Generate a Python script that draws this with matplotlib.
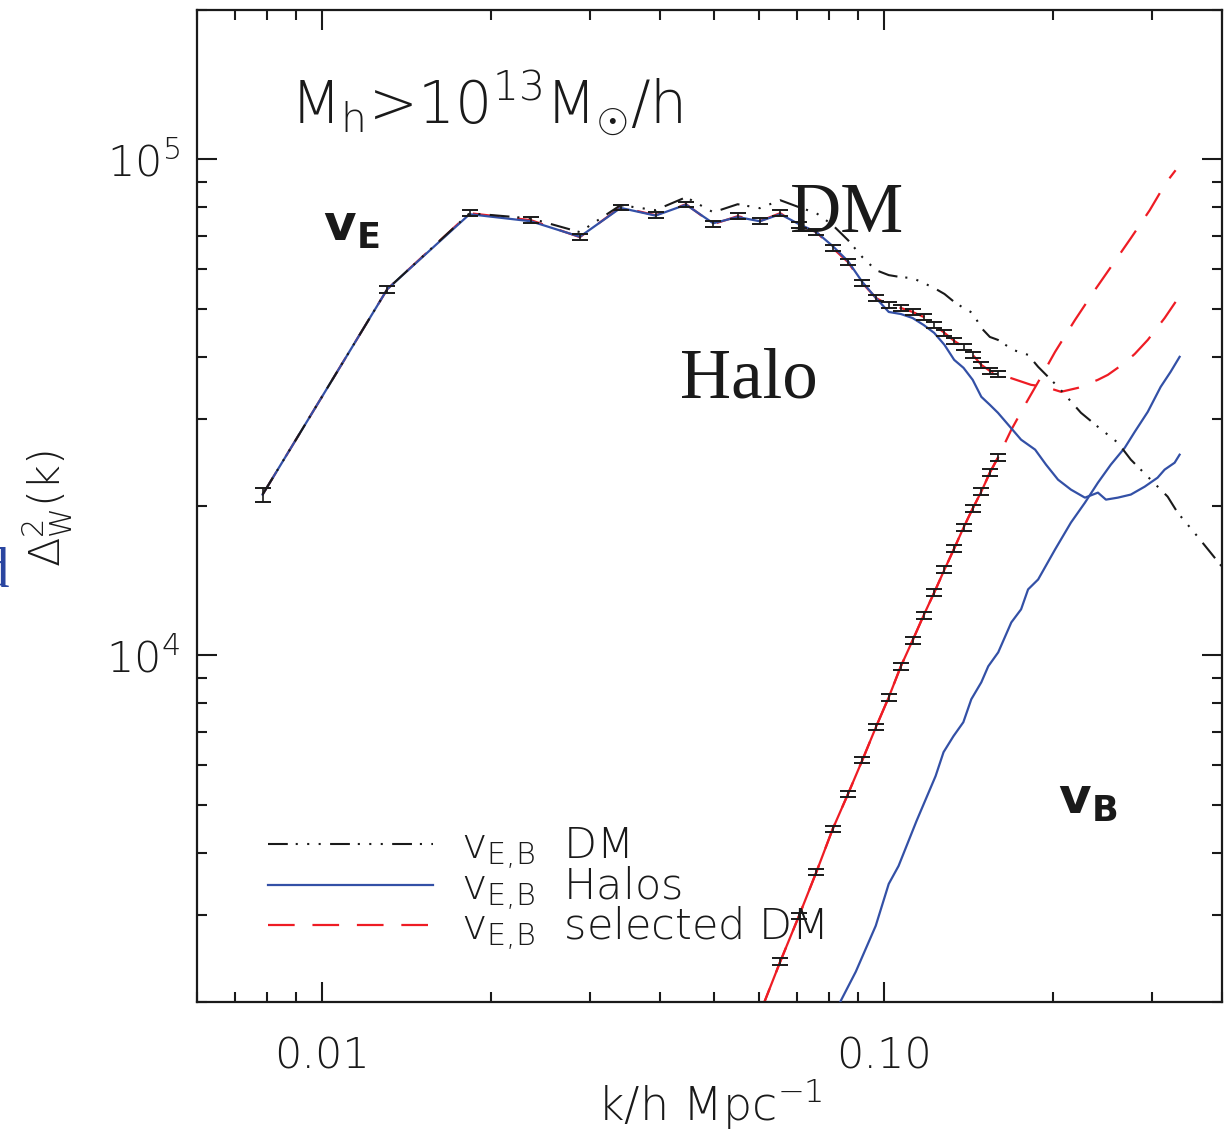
import matplotlib
matplotlib.use("Agg")
import matplotlib.pyplot as plt
from matplotlib.lines import Line2D
from matplotlib.ticker import FixedLocator, FixedFormatter, LogLocator, NullFormatter

# ---- data -------------------------------------------------------------
# wavenumber bins (h/Mpc) shared by all measurements
k_bins = [0.00785, 0.01309, 0.01833, 0.02356, 0.0288, 0.03403, 0.03927, 0.0445,
          0.04974, 0.05498, 0.06021, 0.06545, 0.07069, 0.07592, 0.08116, 0.0864,
          0.09163, 0.09687, 0.1021, 0.1073, 0.1126, 0.1178, 0.1230, 0.1283,
          0.1335, 0.1387, 0.1440, 0.1492, 0.1545, 0.1597]

# selected DM, E mode (with errors) and its extension to high k
sel_E = [21090, 54760, 77860, 75390, 69670, 80060, 77140, 81170, 74000, 76790,
         75040, 77860, 73660, 71310, 66220, 62050, 56300, 52540, 50850, 50150,
         49230, 48100, 46340, 44670, 43040, 41850, 40340, 38510, 37450, 36940]
sel_E_err = [700, 880, 1000, 1000, 900, 1000, 1000, 1000, 950, 1000,
             950, 1000, 950, 900, 850, 800, 750, 700, 650, 650,
             650, 600, 600, 600, 550, 550, 530, 500, 500, 480]
sel_E_tail_k = [0.1700, 0.1829, 0.1938, 0.2068, 0.2217, 0.2406, 0.2505, 0.2686,
                0.2798, 0.2951, 0.3162, 0.3307]
sel_E_tail = [36090, 35100, 34770, 33980, 34610, 35930, 36760, 38870,
              40520, 43240, 47860, 51580]

# selected DM, B mode (bins from k_bins[10] on) and its extension
sel_B = [1895, 2412, 2984, 3659, 4466, 5253, 6147, 7163, 8230, 9504,
         10720, 12040, 13380, 14890, 16420, 18090, 19760, 21380, 23350, 25030]
sel_B_err = [28, 36, 45, 55, 67, 79, 92, 107, 123, 143,
             161, 181, 201, 223, 246, 271, 296, 321, 350, 375]
sel_B_tail_k = [0.1687, 0.1793, 0.1906, 0.2018, 0.2190, 0.2376, 0.2536, 0.2753,
                0.2975, 0.3175, 0.3307]
sel_B_tail = [28490, 32280, 36420, 40890, 47430, 54510, 60620, 69340,
              78970, 89470, 95030]

# haloes, E mode
halo_E = [21090, 54760, 77500, 75000, 69800, 79800, 77000, 81000, 74300, 76500,
          75000, 77500, 74000, 71310, 66830, 62330, 56570, 52540, 49230, 48760,
          47860, 46340, 44670, 42250, 39410, 37980, 35930, 33200, 31990, 30830]
halo_E_tail_k = [0.1666, 0.1756, 0.1860, 0.1945, 0.2043, 0.2154, 0.2281, 0.2406,
                 0.2486, 0.2610, 0.2753, 0.2914, 0.3072, 0.3162, 0.3294, 0.3362]
halo_E_tail = [29160, 27210, 25980, 24230, 22600, 21580, 20790, 21280,
               20600, 20790, 21090, 21880, 22810, 23680, 24450, 25380]

# haloes, B mode
halo_B_k = [0.08186, 0.0839, 0.0892, 0.0968, 0.1021, 0.1063, 0.1144, 0.1237,
            0.1278, 0.1331, 0.1386, 0.1432, 0.1492, 0.1535, 0.1599, 0.1687,
            0.1756, 0.1807, 0.1883, 0.2018, 0.2154, 0.2281, 0.2406, 0.2536,
            0.2686, 0.2798, 0.2951, 0.3111, 0.3240, 0.3362]
halo_B = [1869, 2012, 2302, 2849, 3461, 3762, 4634, 5708, 6379, 6871,
          7331, 8155, 8824, 9504, 10140, 11650, 12380, 13580, 14220, 16340,
          18520, 20310, 22290, 24230, 26220, 28230, 30970, 34770, 37280, 39970]

# full dark matter, E mode
dm_E = [21090, 54760, 77860, 76000, 71310, 80810, 78970, 83870, 78190, 81170,
        79700, 82710, 80060, 77860, 73660, 68710, 63500, 59780, 58410, 57870,
        57600, 56300, 55010, 53510, 51580, 50150, 48990, 45710, 43840, 43240]
dm_E_tail_k = [0.1700, 0.1807, 0.1883, 0.2043, 0.2244, 0.2406, 0.2610, 0.2753,
               0.2987, 0.3201, 0.3334, 0.3618, 0.3815, 0.3970, 0.41]
dm_E_tail = [41270, 40340, 38160, 34770, 30830, 28880, 26830, 24800,
             22600, 20890, 19400, 17360, 16120, 15240, 14600]

x_ticks = [0.01, 0.1]
x_ticklabels = ["0.01", "0.10"]
y_ticks = [1e4, 1e5]
y_ticklabels = [r"$\mathregular{10^4}$", r"$\mathregular{10^5}$"]

# ---- style ------------------------------------------------------------
plt.rcParams["font.family"] = ["DejaVu Sans"]
plt.rcParams["font.weight"] = "light"
plt.rcParams["axes.labelweight"] = "light"
plt.rcParams["mathtext.fontset"] = "custom"
plt.rcParams["mathtext.rm"] = "DejaVu Sans:light"
plt.rcParams["mathtext.it"] = "DejaVu Sans:italic:light"
plt.rcParams["mathtext.bf"] = "DejaVu Sans:bold"

RED = "#ee1c24"
BLUE = "#3350a6"
BLACK = "#1a1a1a"
DM_STYLE = (0, (9.5, 3.8, 1.0, 4.5, 1.0, 4.5, 1.0, 4.5))
RED_STYLE = (0, (12, 8))

fig = plt.figure(figsize=(12.32, 11.33), dpi=100)
ax = fig.add_axes([0.1599, 0.1156, 0.8320, 0.8756])
ax.set_xscale("log")
ax.set_yscale("log")

# selected DM (dashed) for both modes
ax.plot(k_bins + sel_E_tail_k, sel_E + sel_E_tail, color=RED, ls=RED_STYLE, lw=1.6, zorder=2)
ax.plot(k_bins[10:] + sel_B_tail_k, sel_B + sel_B_tail, color=RED, ls=RED_STYLE, lw=1.6, zorder=2)
ax.plot(k_bins[10:], sel_B, color=RED, lw=1.6, zorder=2)

# haloes
ax.plot(k_bins + halo_E_tail_k, halo_E + halo_E_tail, color=BLUE, lw=1.6, zorder=3)
ax.plot(halo_B_k, halo_B, color=BLUE, lw=1.6, zorder=3)

# dark matter
ax.plot(k_bins + dm_E_tail_k, dm_E + dm_E_tail, color=BLACK, ls=DM_STYLE, lw=1.5, zorder=4)

# error bars on the selected DM measurement
ax.errorbar(k_bins, sel_E, yerr=sel_E_err, fmt="none", ecolor=BLACK,
            elinewidth=1.2, capsize=5.8, capthick=1.4, zorder=5)
ax.errorbar(k_bins[10:], sel_B, yerr=sel_B_err, fmt="none", ecolor=BLACK,
            elinewidth=1.2, capsize=5.8, capthick=1.4, zorder=5)

ax.set_xlim(0.006, 0.4)
ax.set_ylim(2000, 2e5)

ax.xaxis.set_major_locator(FixedLocator(x_ticks))
ax.xaxis.set_major_formatter(FixedFormatter(x_ticklabels))
ax.xaxis.set_minor_locator(LogLocator(base=10, subs=range(2, 10)))
ax.xaxis.set_minor_formatter(NullFormatter())
ax.yaxis.set_major_locator(FixedLocator(y_ticks))
ax.yaxis.set_major_formatter(FixedFormatter(y_ticklabels))
ax.yaxis.set_minor_locator(LogLocator(base=10, subs=range(2, 10)))
ax.yaxis.set_minor_formatter(NullFormatter())

ax.tick_params(which="both", direction="in", top=True, right=True,
               width=1.5, color=BLACK, labelsize=31, labelcolor=BLACK)
ax.tick_params(which="major", length=14.5)
ax.tick_params(which="minor", length=7.5)
ax.tick_params(axis="x", which="major", pad=24)
ax.tick_params(axis="y", which="major", pad=12)
for sp in ax.spines.values():
    sp.set_linewidth(1.6)
    sp.set_color(BLACK)

ax.set_xlabel(r"k/h Mpc$^{\mathregular{-1}}$", fontsize=33, color=BLACK,
              fontweight="light")
ax.xaxis.set_label_coords(0.50, -0.076)
ax.set_ylabel(r"$\mathregular{\Delta^2_W(k)}$", fontsize=31, color=BLACK,
              fontweight="light")
ax.yaxis.set_label_coords(-0.120, 0.497)

# annotations
ax.text(0.0907, 0.886, r"M$_{\mathregular{h}}$>10$^{\mathregular{13}}$M$_{\odot}$/h",
        transform=ax.transAxes, fontsize=42, color=BLACK)
ax.text(0.123, 0.767, r"$\mathbf{v}_{\mathbf{E}}$", transform=ax.transAxes,
        fontsize=36, color=BLACK)
ax.text(0.840, 0.190, r"$\mathbf{v}_{\mathbf{B}}$", transform=ax.transAxes,
        fontsize=36, color=BLACK)
ax.text(0.5785, 0.776, "DM", transform=ax.transAxes, fontsize=51,
        family="Liberation Serif", weight="normal", color=BLACK)
ax.text(0.471, 0.609, "Halo", transform=ax.transAxes, fontsize=51,
        family="Liberation Serif", weight="normal", color=BLACK)

# legend
handles = [Line2D([], [], color=BLACK, ls=DM_STYLE, lw=1.5),
           Line2D([], [], color=BLUE, lw=1.6),
           Line2D([], [], color=RED, ls=RED_STYLE, lw=1.6)]
labels = [r"$\mathregular{v_{E{,}B}}$  DM", r"$\mathregular{v_{E{,}B}}$  Halos",
          r"$\mathregular{v_{E{,}B}}$  selected DM"]
leg = ax.legend(handles, labels, loc="lower left", bbox_to_anchor=(0.069, 0.049),
                frameon=False, fontsize=31, handlelength=3.85, handletextpad=0.65,
                labelspacing=-0.18, borderpad=0, borderaxespad=0)
for t in leg.get_texts():
    t.set_color(BLACK)

# edge of a neighbouring glyph
fig.text(0.0075, 0.482, "d", ha="right", va="baseline", fontsize=41,
         family="Liberation Serif", weight="normal", color="#2a45a0")

fig.savefig("out.png", dpi=100)
